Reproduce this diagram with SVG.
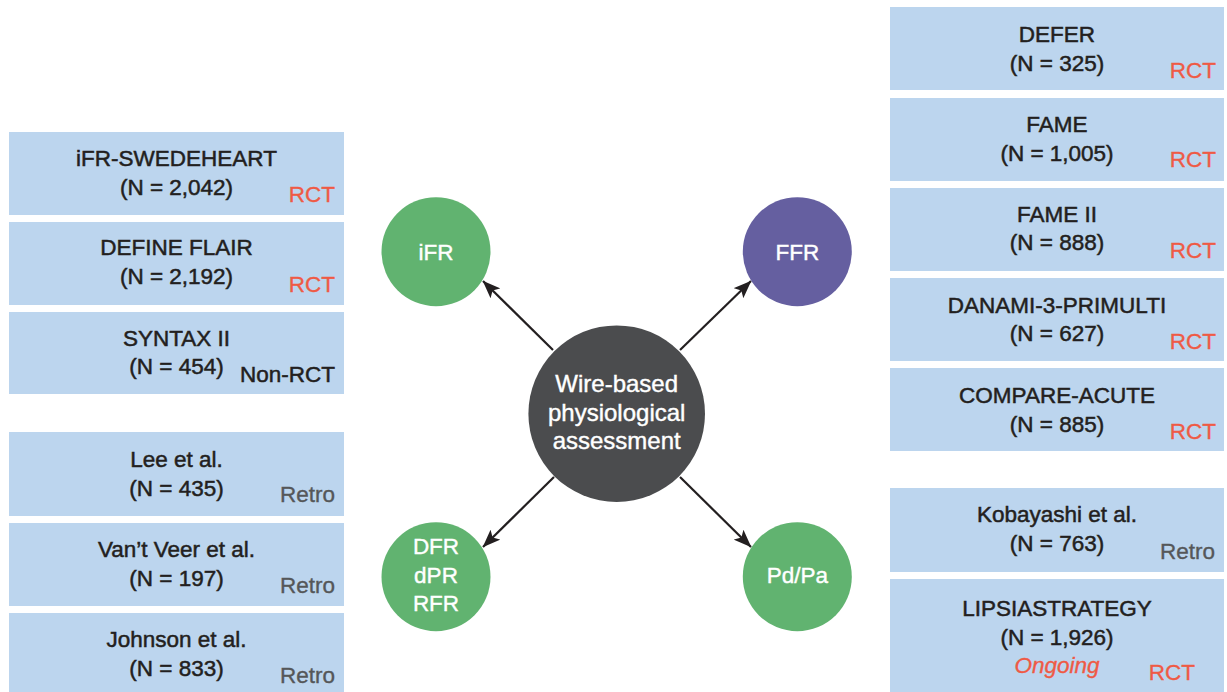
<svg xmlns="http://www.w3.org/2000/svg" width="1227" height="692" viewBox="0 0 1227 692">
<style>
.box{fill:#bcd5ee}
.t{font-family:"Liberation Sans",Arial,sans-serif;font-size:22.5px;fill:#231f20;stroke:#231f20;stroke-width:0.5;text-anchor:middle}
.rct{font-family:"Liberation Sans",Arial,sans-serif;font-size:22.5px;fill:#ef5a45;stroke:#ef5a45;stroke-width:0.35;text-anchor:end}
.retro{font-family:"Liberation Sans",Arial,sans-serif;font-size:22.5px;fill:#555759;stroke:#555759;stroke-width:0.35;text-anchor:end}
.ong{font-family:"Liberation Sans",Arial,sans-serif;font-size:22.5px;font-style:italic;fill:#ef5a45;stroke:#ef5a45;stroke-width:0.35;text-anchor:middle}
.ct{font-family:"Liberation Sans",Arial,sans-serif;font-size:22.5px;fill:#ffffff;stroke:#ffffff;stroke-width:0.4;text-anchor:middle}
.cc{font-size:24px}
.green{fill:#61b370}
.conn line{stroke:#231f20;stroke-width:2.2;marker-end:url(#arr)}
</style>
<defs>
<marker id="arr" viewBox="0 0 18 14" refX="17.5" refY="7" markerWidth="18" markerHeight="14" markerUnits="userSpaceOnUse" orient="auto">
<path d="M0,0 L18,7 L0,14 L4,7 z" fill="#231f20"/>
</marker>
</defs>
<rect width="1227" height="692" fill="#ffffff"/>

<!-- Left top boxes -->
<g id="ifr-swedeheart"><rect class="box" x="9" y="132" width="335" height="83"/><text class="t" x="176.5" y="166">iFR-SWEDEHEART</text><text class="t" x="176.5" y="195">(N = 2,042)</text><text class="rct" x="335" y="202">RCT</text></g>
<g id="define-flair"><rect class="box" x="9" y="222" width="335" height="83"/><text class="t" x="176.5" y="255">DEFINE FLAIR</text><text class="t" x="176.5" y="284">(N = 2,192)</text><text class="rct" x="335" y="292">RCT</text></g>
<g id="syntax-ii"><rect class="box" x="9" y="312" width="335" height="82"/><text class="t" x="176.5" y="346">SYNTAX II</text><text class="t" x="176.5" y="374">(N = 454)</text><text class="t" x="335" y="382" style="text-anchor:end">Non-RCT</text></g>

<!-- Left bottom boxes -->
<g id="lee"><rect class="box" x="9" y="432" width="335" height="84"/><text class="t" x="176.5" y="467">Lee et al.</text><text class="t" x="176.5" y="496">(N = 435)</text><text class="retro" x="335" y="502">Retro</text></g>
<g id="vantveer"><rect class="box" x="9" y="523" width="335" height="83"/><text class="t" x="176.5" y="557">Van’t Veer et al.</text><text class="t" x="176.5" y="586">(N = 197)</text><text class="retro" x="335" y="593">Retro</text></g>
<g id="johnson"><rect class="box" x="9" y="613" width="335" height="90"/><text class="t" x="176.5" y="647">Johnson et al.</text><text class="t" x="176.5" y="676">(N = 833)</text><text class="retro" x="335" y="683">Retro</text></g>

<!-- Right top boxes -->
<g id="defer"><rect class="box" x="890" y="7" width="334" height="83"/><text class="t" x="1057" y="42">DEFER</text><text class="t" x="1057" y="71">(N = 325)</text><text class="rct" x="1216" y="78">RCT</text></g>
<g id="fame"><rect class="box" x="890" y="98" width="334" height="83"/><text class="t" x="1057" y="132">FAME</text><text class="t" x="1057" y="161">(N = 1,005)</text><text class="rct" x="1216" y="167">RCT</text></g>
<g id="fame-ii"><rect class="box" x="890" y="188" width="334" height="83"/><text class="t" x="1057" y="222">FAME II</text><text class="t" x="1057" y="250">(N = 888)</text><text class="rct" x="1216" y="258">RCT</text></g>
<g id="danami"><rect class="box" x="890" y="278" width="334" height="83"/><text class="t" x="1057" y="313">DANAMI-3-PRIMULTI</text><text class="t" x="1057" y="341">(N = 627)</text><text class="rct" x="1216" y="349">RCT</text></g>
<g id="compare-acute"><rect class="box" x="890" y="368" width="334" height="83"/><text class="t" x="1057" y="403">COMPARE-ACUTE</text><text class="t" x="1057" y="432">(N = 885)</text><text class="rct" x="1216" y="439">RCT</text></g>

<!-- Right bottom boxes -->
<g id="kobayashi"><rect class="box" x="890" y="488" width="334" height="84"/><text class="t" x="1057" y="522">Kobayashi et al.</text><text class="t" x="1057" y="551">(N = 763)</text><text class="retro" x="1215" y="559">Retro</text></g>
<g id="lipsia"><rect class="box" x="890" y="579" width="334" height="120"/><text class="t" x="1057" y="616">LIPSIASTRATEGY</text><text class="t" x="1057" y="645">(N = 1,926)</text><text class="ong" x="1057" y="673">Ongoing</text><text class="rct" x="1195" y="680">RCT</text></g>

<!-- Connectors -->
<g id="connectors" class="conn">
<line x1="553" y1="350" x2="483" y2="281"/>
<line x1="680" y1="350" x2="751" y2="281"/>
<line x1="554" y1="477" x2="483" y2="547"/>
<line x1="680" y1="477" x2="751" y2="547"/>
</g>

<!-- Circles -->
<g id="center"><circle cx="616.7" cy="413.7" r="88.3" fill="#4b4c4e"/><text class="ct cc" x="616.7" y="392">Wire-based</text><text class="ct cc" x="616.7" y="421">physiological</text><text class="ct cc" x="616.7" y="449">assessment</text></g>
<g id="ifr"><circle class="green" cx="436" cy="251.7" r="54.5"/><text class="ct" x="436" y="259.5">iFR</text></g>
<g id="ffr"><circle cx="797.3" cy="251.7" r="54.5" fill="#655fa0"/><text class="ct" x="797.3" y="259.5">FFR</text></g>
<g id="dfr"><circle class="green" cx="436" cy="576.7" r="54.5"/><text class="ct" x="436" y="553.5">DFR</text><text class="ct" x="436" y="582.5">dPR</text><text class="ct" x="436" y="611">RFR</text></g>
<g id="pdpa"><circle class="green" cx="797.3" cy="576.7" r="54.5"/><text class="ct" x="797.3" y="583">Pd/Pa</text></g>
</svg>
